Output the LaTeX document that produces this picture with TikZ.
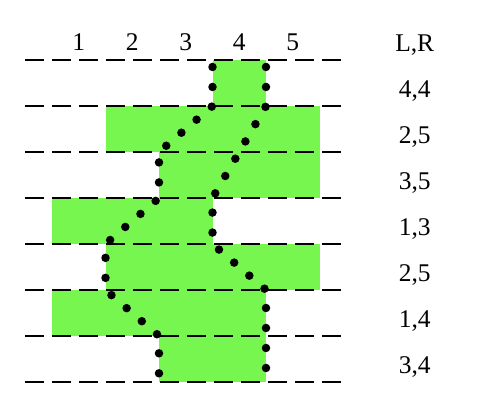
\documentclass[tikz,border=0pt]{standalone}
\usepackage{fontspec}
\setmainfont{Liberation Serif}
\usepackage{tikz}
\usetikzlibrary{positioning}
\definecolor{cellgreen}{RGB}{118,246,78}

\begin{document}
\begin{tikzpicture}[x=1.07cm, y=-0.92cm, every node/.style={font=\fontsize{14.5}{17}\selectfont},
  cell/.style={fill=cellgreen, draw=none},
  rowline/.style={line width=1.4pt, dash pattern=on 0.37cm off 0.17cm},
  dotpath/.style={line width=0.17cm, line cap=round, dash pattern=on 0pt off 0.4cm, dash phase=0.26cm}]
  \useasboundingbox (-0.972,-1.304) rectangle (8.0,7.435);

  % green cells, one block per row
  \fill[cell] (3,0) rectangle (4,1);
  \fill[cell] (1,1) rectangle (5,2);
  \fill[cell] (2,2) rectangle (5,3);
  \fill[cell] (0,3) rectangle (3,4);
  \fill[cell] (1,4) rectangle (5,5);
  \fill[cell] (0,5) rectangle (4,6);
  \fill[cell] (2,6) rectangle (4,7);

  % row separators
  \draw[rowline] (-0.5,0) -- (5.5,0);
  \draw[rowline] (-0.5,1) -- (5.5,1);
  \draw[rowline] (-0.5,2) -- (5.5,2);
  \draw[rowline] (-0.5,3) -- (5.5,3);
  \draw[rowline] (-0.5,4) -- (5.5,4);
  \draw[rowline] (-0.5,5) -- (5.5,5);
  \draw[rowline] (-0.5,6) -- (5.5,6);
  \draw[rowline] (-0.5,7) -- (5.5,7);

  % left and right boundaries
  \draw[dotpath] (3,0) -- (3,1) -- (2,2) -- (2,3) -- (1,4) -- (1,5) -- (2,6) -- (2,7);
  \draw[dotpath] (4,0) -- (4,1) -- (3,3) -- (3,4) -- (4,5) -- (4,7);

  % column numbers
  \node (c1) at (0.5,-0.39) {1};
  \node (c2) at (1.5,-0.39) {2};
  \node (c3) at (2.5,-0.39) {3};
  \node (c4) at (3.5,-0.39) {4};
  \node (c5) at (4.5,-0.39) {5};

  % L,R per row
  \node (lr) at (6.78,-0.33) {L,R};
  \node (r1) at (6.78,0.67) {4,4};
  \node (r2) at (6.78,1.67) {2,5};
  \node (r3) at (6.78,2.67) {3,5};
  \node (r4) at (6.78,3.67) {1,3};
  \node (r5) at (6.78,4.67) {2,5};
  \node (r6) at (6.78,5.67) {1,4};
  \node (r7) at (6.78,6.67) {3,4};
\end{tikzpicture}
\end{document}
